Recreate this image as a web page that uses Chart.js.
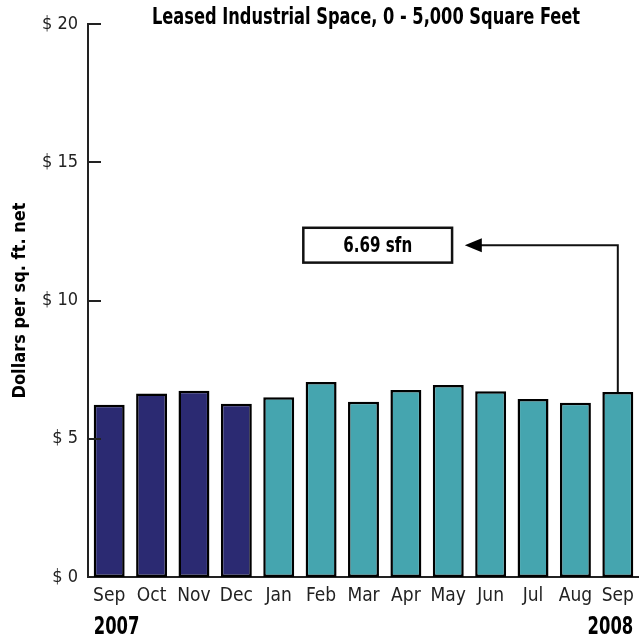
<!DOCTYPE html>
<html><head><meta charset="utf-8">
<script src="https://cdn.jsdelivr.net/npm/chart.js@4.4.1/dist/chart.umd.min.js"></script>
<style>html,body{margin:0;padding:0;background:#fff;}#wrap{width:639px;height:642px;}</style>
</head><body><div id="wrap"><canvas id="c" width="639" height="642"></canvas></div>
<script>
const months = ['Sep','Oct','Nov','Dec','Jan','Feb','Mar','Apr','May','Jun','Jul','Aug','Sep'];
const years = ['2007','2007','2007','2007','2008','2008','2008','2008','2008','2008','2008','2008','2008'];
const values = [6.23, 6.64, 6.74, 6.27, 6.50, 7.05, 6.34, 6.76, 6.94, 6.72, 6.44, 6.30, 6.69];
const yTicks = [0, 5, 10, 15, 20];
const titleText = 'Leased Industrial Space, 0 - 5,000 Square Feet';
const yAxisTitle = 'Dollars per sq. ft. net';
const calloutText = '6.69 sfn';
const calloutValue = 12;
const yearColors = {'2007': '#2B2A72', '2008': '#45A5AF'};

const FONT = "'Liberation Sans Narrow','DejaVu Sans Condensed','Arial Narrow',sans-serif";

function condText(ctx, text, x, y, sx, align) {
  ctx.save();
  ctx.translate(x, y);
  ctx.scale(sx, 1);
  ctx.textAlign = align;
  ctx.fillText(text, 0, 0);
  ctx.restore();
}

const decor = {
  id: 'decor',
  afterDraw(chart) {
    const {ctx, chartArea, scales: {x, y}} = chart;
    const meta = chart.getDatasetMeta(0);
    ctx.save();
    // inward tick marks on y axis
    ctx.strokeStyle = '#222'; ctx.lineWidth = 2;
    y.ticks.forEach(t => {
      if (t.value === 0) return;
      const py = Math.round(y.getPixelForValue(t.value));
      ctx.beginPath(); ctx.moveTo(chartArea.left, py); ctx.lineTo(chartArea.left + 13, py); ctx.stroke();
    });
    // title
    ctx.fillStyle = '#000';
    ctx.textBaseline = 'middle';
    ctx.font = `bold 23px ${FONT}`;
    condText(ctx, titleText, 366, 18, 0.785, 'center');
    // years
    ctx.font = `bold 24px ${FONT}`;
    const first = meta.data[0], last = meta.data[meta.data.length - 1];
    condText(ctx, years[0], first.x - first.width / 2, 628, 0.76, 'left');
    condText(ctx, years[years.length - 1], last.x + last.width / 2, 628, 0.76, 'right');
    // callout
    const ay = y.getPixelForValue(calloutValue);
    const tipX = x.getPixelForValue(8.39);
    ctx.strokeStyle = '#111'; ctx.lineWidth = 2;
    ctx.beginPath();
    ctx.moveTo(last.x, last.y);
    ctx.lineTo(last.x, ay);
    ctx.lineTo(tipX + 14, ay);
    ctx.stroke();
    ctx.fillStyle = '#000';
    ctx.beginPath();
    ctx.moveTo(tipX, ay); ctx.lineTo(tipX + 17, ay - 7); ctx.lineTo(tipX + 17, ay + 7); ctx.closePath(); ctx.fill();
    const bl = x.getPixelForValue(4.58), br = x.getPixelForValue(8.09);
    const bt = y.getPixelForValue(12.63), bb = y.getPixelForValue(11.37);
    ctx.lineWidth = 2.5;
    ctx.strokeRect(bl, bt, br - bl, bb - bt);
    ctx.font = `bold 21px ${FONT}`;
    condText(ctx, calloutText, (bl + br) / 2, (bt + bb) / 2 + 1, 0.8, 'center');
    ctx.restore();
  }
};

new Chart(document.getElementById('c'), {
  type: 'bar',
  data: {
    labels: months,
    datasets: [{
      data: values,
      backgroundColor: years.map(yr => yearColors[yr]),
      borderColor: '#000',
      borderWidth: 2.5,
      borderSkipped: false,
      barPercentage: 0.73,
      categoryPercentage: 1.0
    }]
  },
  options: {
    responsive: false,
    animation: false,
    devicePixelRatio: 1,
    layout: {padding: {top: 24, right: 0, left: 0, bottom: 0}},
    plugins: {legend: {display: false}, tooltip: {enabled: false}, title: {display: false}},
    scales: {
      x: {
        grid: {display: false, drawTicks: false},
        border: {display: true, color: '#222', width: 2},
        ticks: {font: {family: FONT, size: 19}, color: '#222', padding: 8, maxRotation: 0, autoSkip: false},
        afterFit: s => { s.height = 65; s.paddingLeft = 0; s.paddingRight = 0; }
      },
      y: {
        min: 0, max: 20,
        afterBuildTicks: s => { s.ticks = yTicks.map(v => ({value: v})); },
        grid: {display: false, drawTicks: false},
        border: {display: true, color: '#222', width: 2},
        ticks: {font: {family: FONT, size: 18}, color: '#222', padding: 10, callback: v => '$ ' + v},
        title: {display: true, text: yAxisTitle, font: {family: FONT, size: 18, weight: 'bold'}, color: '#000', padding: {top: 10, bottom: 0}},
        afterFit: s => { s.width = 88; s.paddingTop = 0; s.paddingBottom = 0; }
      }
    }
  },
  plugins: [decor]
});
</script>
</body></html>
